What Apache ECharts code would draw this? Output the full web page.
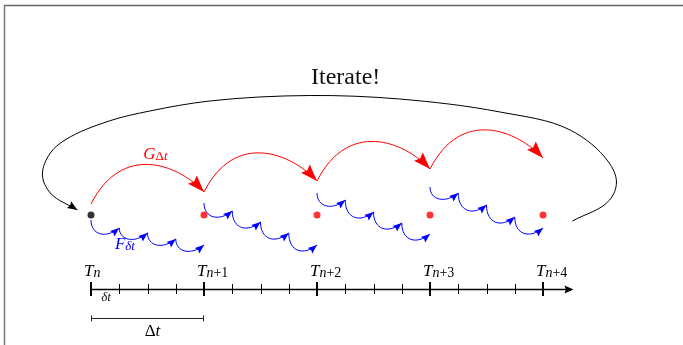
<!DOCTYPE html>
<html>
<head>
<meta charset="utf-8">
<title>Parareal</title>
<style>
  html, body { margin: 0; padding: 0; background: #fff; }
  #main { width: 683px; height: 345px; }
</style>
<script src="https://cdn.jsdelivr.net/npm/echarts@6/dist/echarts.min.js"></script>
</head>
<body>
<div id="main"></div>
<script>
// time is in units of Δt (T_n = 0), level is the height above the time axis
var timeSubs = [['n', ''], ['n', '+1'], ['n', '+2'], ['n', '+3'], ['n', '+4']];
var finePerCoarse = 4;          // δt = Δt / 4
var axisEnd = 4.27;
var nodeLevel = 74;
var nodeColors = ['#000', '#f00', '#f00', '#f00', '#f00'];

// coarse propagator G: level at the start of each jump (end = next start)
var coarseLevels = [85, 97, 108, 120, 131];

// fine propagator F: start level in each slice, then the tip of every sub step
var fineStart = [69, 86, 96, 102];
var fineTips = [
  [61, 56, 50, 44],
  [78, 67, 56, 44],
  [89, 77, 66, 55],
  [96, 84, 72, 61]
];

// the "Iterate!" loop, from the right end round to the first node
var loopT     = [4.26, 4.59, 4.65, 4.58, 4.24, 3.62, 2.73, 1.94,  1.05, 0.52, 0.16, -0.23, -0.36, -0.43, -0.36, -0.12];
var loopLevel = [68,   89,   107,  127,  159,  177,  190,  193.5, 188,  178,  168,  149,   136,   114,   96,    79];

var SERIF = '"Liberation Serif", "DejaVu Serif", serif';

function arrowHead(tip, from, len, half, color) {
  var dx = tip[0] - from[0], dy = tip[1] - from[1];
  var d = Math.sqrt(dx * dx + dy * dy) || 1;
  dx /= d; dy /= d;
  var bx = tip[0] - dx * len, by = tip[1] - dy * len;
  return {
    type: 'polygon',
    shape: { points: [
      tip,
      [bx - dy * half, by + dx * half],
      [tip[0] - dx * len * 0.85, tip[1] - dy * len * 0.85],
      [bx + dy * half, by - dx * half]
    ] },
    style: { fill: color, stroke: null }
  };
}

function curve(p0, c1, c2, p3, color, lw) {
  return {
    type: 'bezierCurve',
    shape: { x1: p0[0], y1: p0[1], cpx1: c1[0], cpy1: c1[1], cpx2: c2[0], cpy2: c2[1], x2: p3[0], y2: p3[1] },
    style: { stroke: color, fill: null, lineWidth: lw }
  };
}

function unit(v) {
  var d = Math.sqrt(v[0] * v[0] + v[1] * v[1]) || 1;
  return [v[0] / d, v[1] / d];
}

// tangent at b, from its neighbours a and c
function tangent(a, b, c) {
  var u = unit([b[0] - a[0], b[1] - a[1]]);
  var v = unit([c[0] - b[0], c[1] - b[1]]);
  return unit([u[0] + v[0], u[1] + v[1]]);
}

// data built from the arrays above
var coarseData = [];
for (var i = 0; i < coarseLevels.length - 1; i++) {
  coarseData.push([i, coarseLevels[i], i + 1, coarseLevels[i + 1]]);
}

var fineData = [];
fineTips.forEach(function (tips, k) {
  var prev = fineStart[k];
  tips.forEach(function (lv, j) {
    fineData.push([k + j / finePerCoarse, prev, k + (j + 1) / finePerCoarse, lv]);
    prev = lv;
  });
});

var loopData = [];
for (var i = 0; i < loopT.length - 1; i++) {
  var a = Math.max(i - 1, 0), d = Math.min(i + 2, loopT.length - 1);
  loopData.push([loopT[a], loopLevel[a], loopT[i], loopLevel[i], loopT[i + 1], loopLevel[i + 1], loopT[d], loopLevel[d], i === loopT.length - 2 ? 1 : 0]);
}

var tickData = [];
for (var k = 0; k <= (timeSubs.length - 1) * finePerCoarse; k++) {
  tickData.push([k / finePerCoarse, k % finePerCoarse === 0 ? 1 : 0]);
}

var nodeData = timeSubs.map(function (s, i) {
  return { value: [i, nodeLevel], itemStyle: { color: nodeColors[i] } };
});

var labelData = timeSubs.map(function (s, i) { return [i, 0]; });

var chart = echarts.init(document.getElementById('main'));

var option = {
  animation: false,
  backgroundColor: '#fff',
  title: {
    text: 'Iterate!',
    left: 306,
    top: 61,
    textStyle: { fontFamily: SERIF, fontSize: 24, fontWeight: 'normal', color: '#111' }
  },
  grid: { left: 91, right: 140, top: 0, bottom: 56 },
  xAxis: { type: 'value', min: 0, max: 4, show: false },
  yAxis: { type: 'value', min: 0, max: 289, show: false },
  graphic: [
    { type: 'line', shape: { x1: 4, y1: 5.5, x2: 683, y2: 5.5 }, style: { stroke: '#666', lineWidth: 1.5 } },
    { type: 'line', shape: { x1: 4.5, y1: 5, x2: 4.5, y2: 345 }, style: { stroke: '#777', lineWidth: 1.5 } }
  ],
  series: [
    {
      name: 'coarse',
      type: 'custom',
      data: coarseData,
      renderItem: function (params, api) {
        var p0 = api.coord([api.value(0), api.value(1)]);
        var p3 = api.coord([api.value(2), api.value(3)]);
        var w = p3[0] - p0[0];
        var c1 = [p0[0] + 0.45 * 0.61 * w, p0[1] - 0.89 * 0.61 * w];
        var c2 = [p3[0] - 0.68 * 0.34 * w, p3[1] - 0.73 * 0.34 * w];
        return { type: 'group', children: [
          curve(p0, c1, c2, p3, '#f00', 1),
          arrowHead(p3, c2, 17, 6, '#f00')
        ] };
      }
    },
    {
      name: 'fine',
      type: 'custom',
      data: fineData,
      renderItem: function (params, api) {
        var p0 = api.coord([api.value(0), api.value(1)]);
        var p3 = api.coord([api.value(2), api.value(3)]);
        var w = p3[0] - p0[0];
        var c1 = [p0[0], p3[1] + 7];
        var c2 = [p0[0] + 0.53 * w, p3[1] + 11];
        return { type: 'group', children: [
          curve(p0, c1, c2, p3, '#00f', 1),
          arrowHead(p3, c2, 9, 3.5, '#00f')
        ] };
      }
    },
    {
      name: 'loop',
      type: 'custom',
      data: loopData,
      renderItem: function (params, api) {
        var q0 = api.coord([api.value(0), api.value(1)]);
        var q1 = api.coord([api.value(2), api.value(3)]);
        var q2 = api.coord([api.value(4), api.value(5)]);
        var q3 = api.coord([api.value(6), api.value(7)]);
        var len = Math.sqrt(Math.pow(q2[0] - q1[0], 2) + Math.pow(q2[1] - q1[1], 2)) / 3;
        var t1 = tangent(q0, q1, q2);
        var t2 = tangent(q1, q2, q3);
        var c1 = [q1[0] + t1[0] * len, q1[1] + t1[1] * len];
        var c2 = [q2[0] - t2[0] * len, q2[1] - t2[1] * len];
        var kids = [curve(q1, c1, c2, q2, '#000', 1)];
        if (api.value(8)) kids.push(arrowHead(q2, c2, 10, 4, '#000'));
        return { type: 'group', children: kids };
      }
    },
    {
      name: 'nodes',
      type: 'scatter',
      symbolSize: 7,
      data: nodeData,
      z: 5
    },
    {
      name: 'time axis',
      type: 'custom',
      data: [[0, axisEnd]],
      renderItem: function (params, api) {
        var a = api.coord([api.value(0), 0]);
        var b = api.coord([api.value(1), 0]);
        var y = Math.round(a[1]) + 0.5;
        return { type: 'group', children: [
          { type: 'line', shape: { x1: a[0], y1: y, x2: b[0] - 6, y2: y }, style: { stroke: '#000', lineWidth: 1.3 } },
          arrowHead([b[0], y], [a[0], y], 9, 4, '#000')
        ] };
      }
    },
    {
      name: 'ticks',
      type: 'custom',
      data: tickData,
      renderItem: function (params, api) {
        var p = api.coord([api.value(0), 0]);
        var major = api.value(1) === 1;
        var h = major ? 7 : 5;
        var x = Math.round(p[0]) + (major ? 0 : 0.5);
        return { type: 'line', shape: { x1: x, y1: p[1] - h, x2: x, y2: p[1] + h },
          style: { stroke: '#000', lineWidth: major ? 2 : 1 } };
      }
    },
    {
      name: 'time labels',
      type: 'custom',
      data: labelData,
      renderItem: function (params, api) {
        var p = api.coord([api.value(0), api.value(1)]);
        var s = timeSubs[params.dataIndex];
        return { type: 'text', x: p[0] - 7, y: p[1] - 9,
          style: {
            text: '{T|T}{s|' + s[0] + '}' + (s[1] ? '{u|' + s[1] + '}' : ''),
            verticalAlign: 'bottom', align: 'left',
            rich: {
              T: { fontFamily: SERIF, fontStyle: 'italic', fontSize: 17, lineHeight: 17, verticalAlign: 'bottom', fill: '#000' },
              s: { fontFamily: SERIF, fontStyle: 'italic', fontSize: 14, lineHeight: 11, verticalAlign: 'bottom', fill: '#000' },
              u: { fontFamily: SERIF, fontSize: 14, lineHeight: 11, verticalAlign: 'bottom', fill: '#000' }
            }
          } };
      }
    },
    {
      name: 'annotations',
      type: 'custom',
      data: [[0, 1, -29]],
      renderItem: function (params, api) {
        var a = api.coord([api.value(0), api.value(2)]);
        var b = api.coord([api.value(1), api.value(2)]);
        var y = Math.round(a[1]) + 0.5;
        var sub = api.coord([api.value(0) + 0.5 / finePerCoarse, 0]);
        var g = api.coord([0.57, 134]);
        var f = api.coord([0.3, 44]);
        return { type: 'group', children: [
          { type: 'line', shape: { x1: a[0], y1: y, x2: b[0], y2: y }, style: { stroke: '#222', lineWidth: 1 } },
          { type: 'line', shape: { x1: a[0] + 0.5, y1: y - 3, x2: a[0] + 0.5, y2: y + 3 }, style: { stroke: '#222', lineWidth: 1 } },
          { type: 'line', shape: { x1: b[0] - 0.5, y1: y - 3, x2: b[0] - 0.5, y2: y + 3 }, style: { stroke: '#222', lineWidth: 1 } },
          { type: 'text', x: (a[0] + b[0]) / 2 + 5, y: y + 13,
            style: { text: '{d|Δ}{t|t}', align: 'center', verticalAlign: 'middle',
              rich: { d: { fontFamily: SERIF, fontSize: 17, fill: '#000' },
                      t: { fontFamily: SERIF, fontStyle: 'italic', fontSize: 17, fill: '#000' } } } },
          { type: 'text', x: sub[0] + 1, y: sub[1] + 9,
            style: { text: 'δt', align: 'center', verticalAlign: 'middle',
              fontFamily: SERIF, fontStyle: 'italic', fontSize: 13, fill: '#111' } },
          { type: 'text', x: g[0], y: g[1],
            style: { text: '{a|G}{b|Δ}{c|t}', align: 'center', verticalAlign: 'middle',
              rich: { a: { fontFamily: SERIF, fontStyle: 'italic', fontSize: 17, fill: '#f00', lineHeight: 17, verticalAlign: 'bottom' },
                      b: { fontFamily: SERIF, fontSize: 13, fill: '#f00', lineHeight: 11, verticalAlign: 'bottom' },
                      c: { fontFamily: SERIF, fontStyle: 'italic', fontSize: 13, fill: '#f00', lineHeight: 11, verticalAlign: 'bottom' } } } },
          { type: 'text', x: f[0], y: f[1],
            style: { text: '{a|F}{b|δt}', align: 'center', verticalAlign: 'middle',
              rich: { a: { fontFamily: SERIF, fontStyle: 'italic', fontSize: 17, fill: '#00f', lineHeight: 17, verticalAlign: 'bottom' },
                      b: { fontFamily: SERIF, fontStyle: 'italic', fontSize: 13, fill: '#00f', lineHeight: 11, verticalAlign: 'bottom' } } } }
        ] };
      }
    }
  ]
};

chart.setOption(option);
</script>
</body>
</html>
